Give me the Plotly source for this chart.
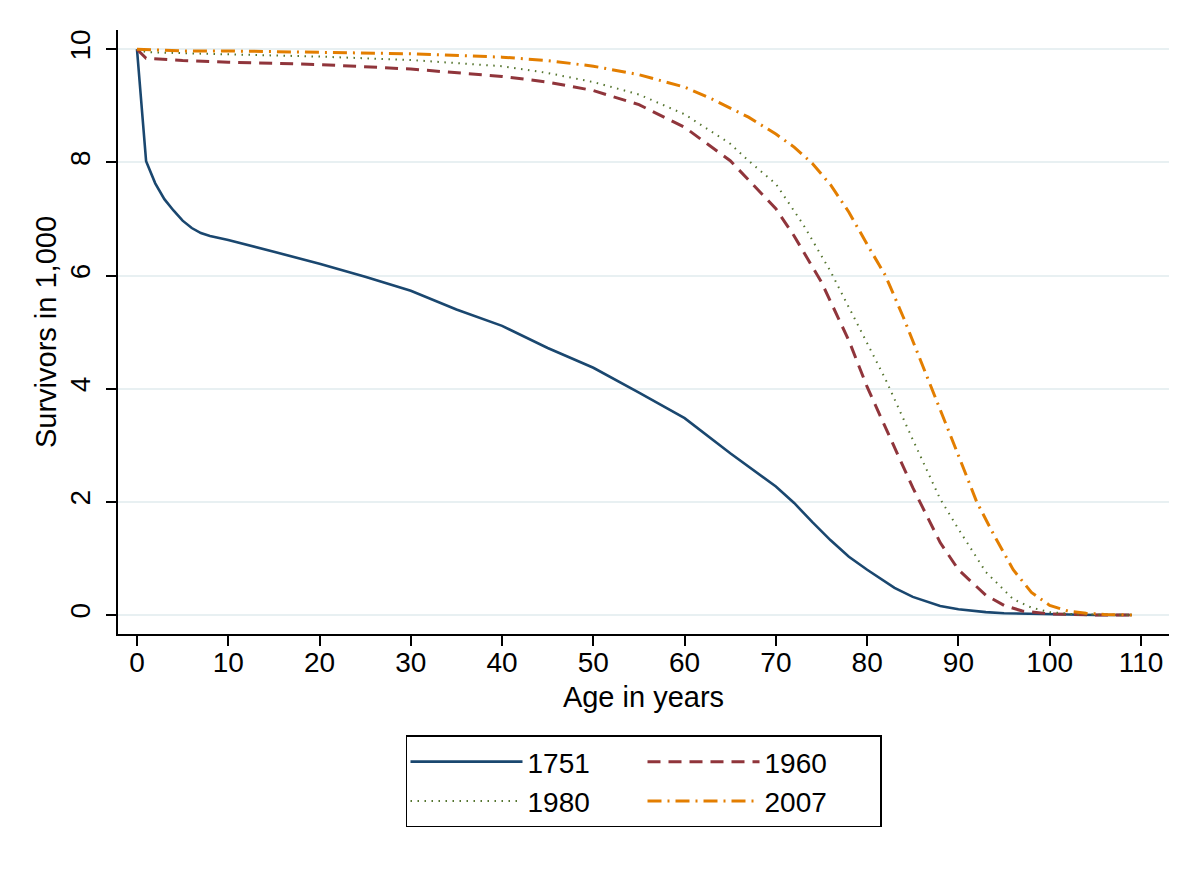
import plotly.graph_objects as go

# Ages and survivors (in 1,000)
age_1751 = [0, 1, 2, 3, 4, 5, 6, 7, 8, 10, 15, 20, 25, 30, 35, 40, 45, 50, 55, 60,
            65, 70, 72, 74, 76, 77, 78, 80, 82, 83, 85, 88, 90, 93, 95, 100, 105, 109]
surv_1751 = [10.0, 8.02, 7.63, 7.35, 7.15, 6.97, 6.84, 6.75, 6.70, 6.63, 6.42, 6.21, 5.98,
             5.73, 5.40, 5.11, 4.72, 4.37, 3.93, 3.48, 2.86, 2.27, 1.98, 1.64, 1.32, 1.17,
             1.03, 0.80, 0.58, 0.48, 0.32, 0.16, 0.10, 0.05, 0.03, 0.01, 0.0, 0.0]

age_1960 = [0, 1, 5, 10, 20, 30, 40, 45, 50, 55, 60, 65, 70, 72, 75, 78, 80, 83, 85, 88,
            90, 93, 95, 97, 100, 105, 109]
surv_1960 = [10.0, 9.84, 9.80, 9.77, 9.73, 9.65, 9.52, 9.42, 9.27, 9.02, 8.62, 8.03, 7.18,
             6.70, 5.88, 4.85, 4.03, 2.95, 2.25, 1.28, 0.80, 0.35, 0.17, 0.07, 0.02, 0.0, 0.0]

age_1980 = [0, 1, 5, 10, 20, 30, 40, 45, 50, 55, 60, 65, 67, 70, 73, 76, 79, 82, 85, 88,
            90, 93, 96, 98, 100, 103, 109]
surv_1980 = [10.0, 9.95, 9.93, 9.91, 9.87, 9.81, 9.70, 9.58, 9.42, 9.20, 8.85, 8.33, 8.03,
             7.62, 6.90, 6.07, 5.13, 4.17, 3.10, 2.05, 1.52, 0.76, 0.28, 0.13, 0.05, 0.01, 0.0]

age_2007 = [0, 5, 10, 20, 30, 40, 45, 50, 55, 60, 63, 67, 70, 72, 74, 76, 78, 80, 82, 84,
            87, 90, 92, 94, 96, 98, 100, 102, 104, 106, 109]
surv_2007 = [10.0, 9.97, 9.97, 9.95, 9.92, 9.86, 9.80, 9.70, 9.55, 9.33, 9.12, 8.80, 8.50,
             8.27, 7.98, 7.60, 7.12, 6.55, 6.00, 5.25, 4.05, 2.82, 2.00, 1.38, 0.80, 0.40,
             0.17, 0.07, 0.03, 0.01, 0.0]

x_ticks = [0, 10, 20, 30, 40, 50, 60, 70, 80, 90, 100, 110]
y_ticks = [0, 2, 4, 6, 8, 10]

FONT = "Liberation Sans, Arial, Helvetica, sans-serif"

fig = go.Figure()
fig.add_trace(go.Scatter(x=age_1751, y=surv_1751, mode="lines", name="1751",
                         legendgroup="a",
                         line=dict(color="#1a476f", width=2.6, dash="solid")))
fig.add_trace(go.Scatter(x=age_1960, y=surv_1960, mode="lines", name="1960",
                         legendgroup="b",
                         line=dict(color="#90353b", width=3, dash="13px,8px")))
fig.add_trace(go.Scatter(x=age_1980, y=surv_1980, mode="lines", name="1980",
                         legendgroup="a",
                         line=dict(color="#55752f", width=2, dash="1.5px,5.5px")))
fig.add_trace(go.Scatter(x=age_2007, y=surv_2007, mode="lines", name="2007",
                         legendgroup="b",
                         line=dict(color="#e37e00", width=3, dash="14px,6px,2px,6px")))

fig.update_layout(
    width=1200, height=873,
    margin=dict(l=110, r=39, t=22, b=247),
    paper_bgcolor="white", plot_bgcolor="white",
    font=dict(family=FONT, size=28, color="black"),
    showlegend=True,
    legend=dict(
        orientation="h", traceorder="grouped",
        x=0.5, xanchor="center", y=-0.168, yanchor="top",
        bordercolor="black", borderwidth=1.5, bgcolor="white",
        font=dict(family=FONT, size=28, color="black"),
        tracegroupgap=40, itemwidth=112,
        entrywidth=110, entrywidthmode="pixels",
    ),
    xaxis=dict(
        range=[-2.08, 113.07], tickvals=x_ticks, ticks="outside", ticklen=10,
        tickwidth=1.5, tickcolor="black", showline=True, linecolor="black",
        linewidth=1.5, showgrid=False, zeroline=False, automargin=False,
        ticklabelstandoff=-7,
        title=dict(text="Age in years", font=dict(size=29), standoff=9),
        tickfont=dict(size=28),
    ),
    yaxis=dict(
        range=[-0.336, 10.34], tickvals=y_ticks, ticks="outside", ticklen=10,
        tickwidth=1.5, tickcolor="black", showline=True, linecolor="black",
        linewidth=1.5, showgrid=True, gridcolor="#e8f0f2", gridwidth=2,
        zeroline=False, tickangle=-90, automargin=False,
        ticklabelstandoff=5,
        title=dict(text="Survivors in 1,000", font=dict(size=29), standoff=0),
        tickfont=dict(size=28),
    ),
)

fig.write_html("out.html")
